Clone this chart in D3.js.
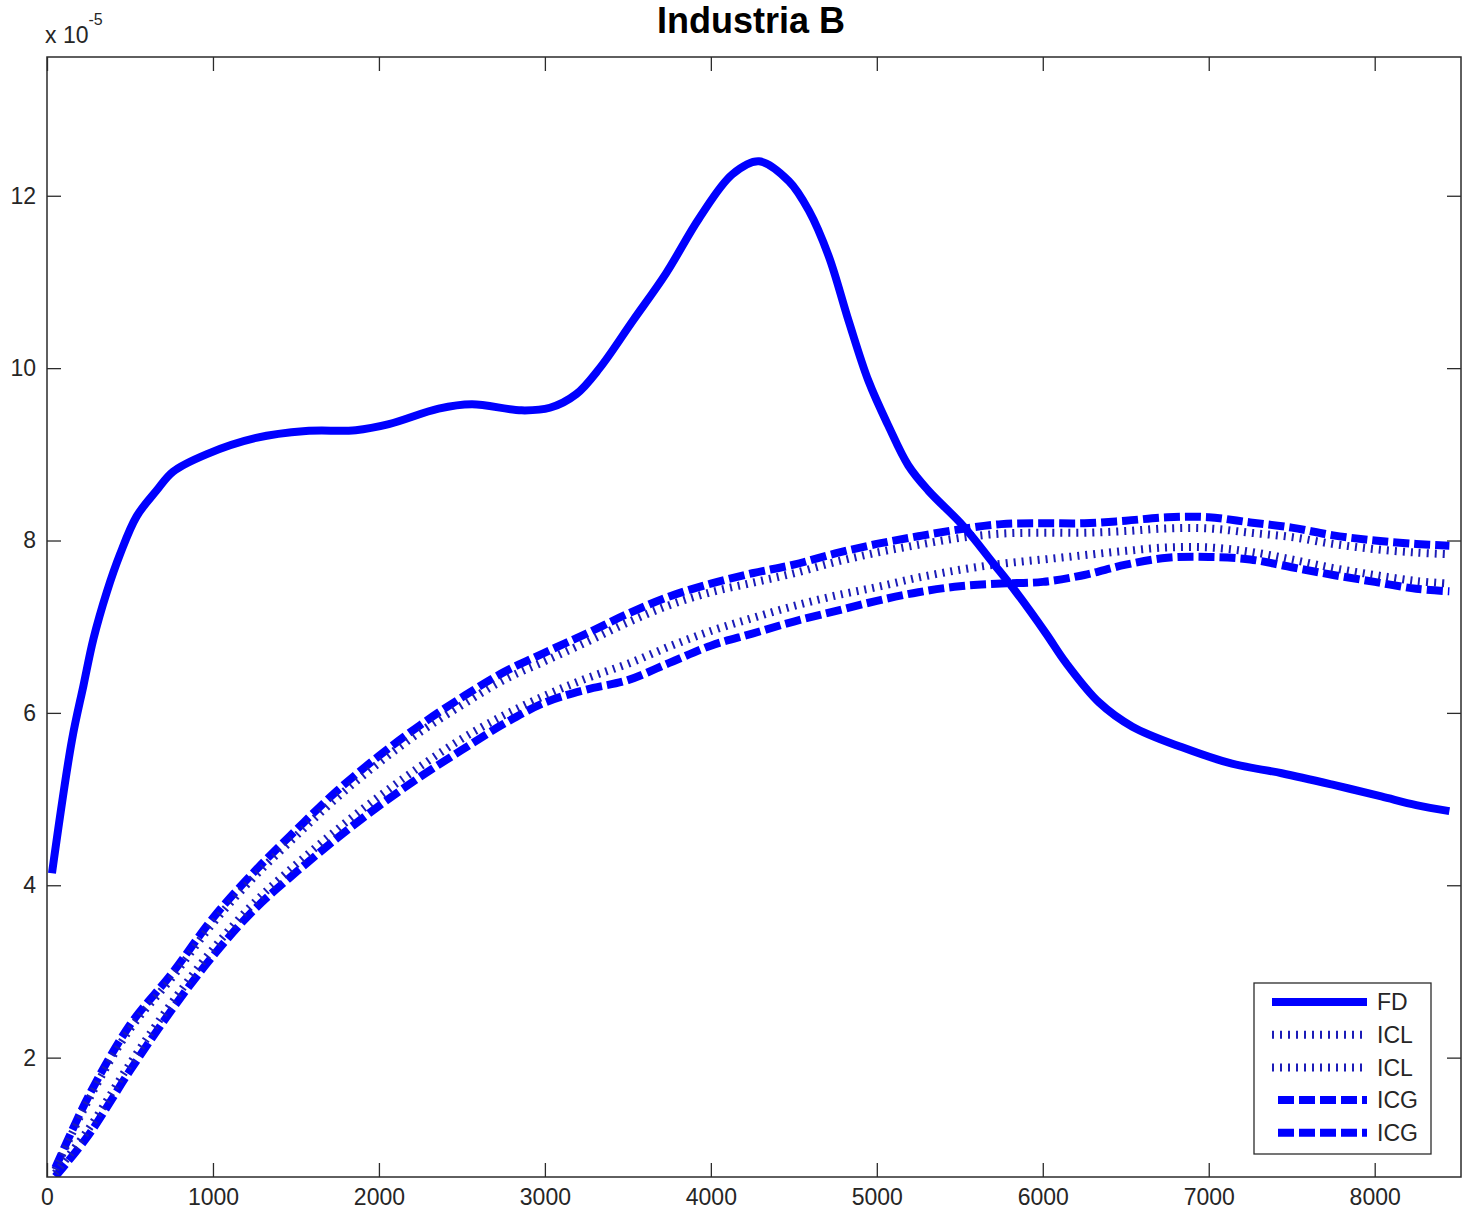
<!DOCTYPE html>
<html>
<head>
<meta charset="utf-8">
<script src="https://cdn.jsdelivr.net/npm/d3@7"></script>
<style>
    body { margin: 0; background: #fff; }
    text { font-family: "Liberation Sans", Arial, sans-serif; }
</style>
</head>
<body>
<div class="plot"></div>
<script>

// tick values
var xTicks = [0, 1000, 2000, 3000, 4000, 5000, 6000, 7000, 8000];
var yTicks = [2, 4, 6, 8, 10, 12];

// FD curve (values in units of 1e-5)
var fdX = [30, 150, 220, 280, 360, 440, 540, 660, 760, 960, 1260, 1560, 1860, 2060, 2360, 2560, 2860, 3030, 3190, 3330,
    3530, 3730, 3930, 4130, 4290, 4470, 4590, 4710, 4830, 4950, 5070, 5190, 5310, 5520, 5700, 5840, 6020, 6140, 6340,
    6540, 6840, 7140, 7440, 7740, 8040, 8250, 8450];
var fdY = [4.14, 5.68, 6.32, 6.86, 7.40, 7.84, 8.28, 8.58, 8.80, 9.00, 9.19, 9.27, 9.28, 9.35, 9.53, 9.58, 9.51, 9.54, 9.70, 10.00,
    10.55, 11.10, 11.74, 12.25, 12.40, 12.17, 11.83, 11.30, 10.55, 9.85, 9.33, 8.87, 8.58, 8.17, 7.74, 7.40, 6.92, 6.58, 6.12,
    5.84, 5.60, 5.41, 5.30, 5.17, 5.03, 4.93, 4.86];

// confidence bands share one x grid
var bandX = [50, 250, 500, 750, 1000, 1250, 1500, 1750, 2000, 2250, 2500, 2750, 3000, 3250, 3500, 3750, 4000, 4250, 4500,
    4750, 5000, 5250, 5500, 5750, 6000, 6250, 6500, 6750, 7000, 7250, 7500, 7750, 8000, 8250, 8450];
var icgUpper = [0.72, 1.55, 2.38, 2.97, 3.62, 4.16, 4.64, 5.10, 5.50, 5.86, 6.18, 6.47, 6.70, 6.92, 7.15, 7.35, 7.50, 7.62, 7.72,
    7.85, 7.96, 8.05, 8.13, 8.19, 8.20, 8.20, 8.23, 8.27, 8.27, 8.21, 8.15, 8.06, 8.00, 7.96, 7.94];
var iclUpper = [0.70, 1.51, 2.33, 2.92, 3.56, 4.10, 4.57, 5.02, 5.42, 5.78, 6.09, 6.38, 6.60, 6.82, 7.05, 7.25, 7.40, 7.51, 7.62,
    7.75, 7.86, 7.95, 8.03, 8.08, 8.09, 8.09, 8.11, 8.14, 8.14, 8.09, 8.04, 7.96, 7.90, 7.86, 7.84];
var iclLower = [0.66, 1.17, 1.93, 2.63, 3.26, 3.80, 4.24, 4.65, 5.03, 5.38, 5.70, 5.97, 6.20, 6.40, 6.57, 6.77, 6.95, 7.10, 7.24,
    7.36, 7.46, 7.57, 7.66, 7.73, 7.78, 7.83, 7.88, 7.92, 7.92, 7.87, 7.78, 7.68, 7.60, 7.53, 7.50];
var icgLower = [0.62, 1.10, 1.85, 2.55, 3.18, 3.72, 4.15, 4.55, 4.92, 5.26, 5.57, 5.87, 6.12, 6.27, 6.38, 6.58, 6.78, 6.92, 7.06,
    7.18, 7.30, 7.40, 7.47, 7.50, 7.52, 7.60, 7.72, 7.80, 7.81, 7.78, 7.69, 7.60, 7.52, 7.44, 7.41];

var legendLabels = ["FD", "ICL", "ICL", "ICG", "ICG"];

var W = 1472, H = 1224;
var box = { left: 47, top: 57, right: 1461, bottom: 1177 };

var BLUE = "#0000ff",
    DOT_BLUE = "#1c1cb8",
    AXIS_COLOR = "#2b2b2b",
    TICK_LEN = 14;

var styles = {
    solid: { color: BLUE, width: 8, dash: null },
    dotted: { color: DOT_BLUE, width: 8, dash: "2,6" },
    dashed: { color: BLUE, width: 8, dash: "16,5" }
};

var svg = d3.select(".plot").append("svg")
    .attr("width", W)
    .attr("height", H);

var x = d3.scaleLinear().domain([0, 8520]).range([box.left, box.right]);
var y = d3.scaleLinear().domain([0.615, 13.61]).range([box.bottom, box.top]);

svg.append("clipPath")
    .attr("id", "clip")
    .append("rect")
    .attr("x", box.left)
    .attr("y", box.top)
    .attr("width", box.right - box.left)
    .attr("height", box.bottom - box.top);

var line = d3.line()
    .x(function(d) { return x(d[0]); })
    .y(function(d) { return y(d[1]); })
    .curve(d3.curveCatmullRom.alpha(0.5));

function zip(xs, ys) {
    return xs.map(function(v, i) { return [v, ys[i]]; });
}

var series = [
    { pts: zip(bandX, icgUpper), style: styles.dashed },
    { pts: zip(bandX, icgLower), style: styles.dashed },
    { pts: zip(bandX, iclUpper), style: styles.dotted },
    { pts: zip(bandX, iclLower), style: styles.dotted },
    { pts: zip(fdX, fdY), style: styles.solid }
];

var plot = svg.append("g").attr("clip-path", "url(#clip)");

plot.selectAll("path.series")
    .data(series)
    .enter().append("path")
    .attr("class", "series")
    .attr("d", function(d) { return line(d.pts); })
    .attr("fill", "none")
    .attr("stroke", function(d) { return d.style.color; })
    .attr("stroke-width", function(d) { return d.style.width; })
    .attr("stroke-dasharray", function(d) { return d.style.dash; })
    .attr("stroke-linejoin", "round");

// axes: matlab style box with inward ticks on all sides
var xAxisBottom = d3.axisBottom(x).tickValues(xTicks).tickFormat(d3.format("d"))
    .tickSizeInner(-TICK_LEN).tickSizeOuter(0).tickPadding(12);
var xAxisTop = d3.axisTop(x).tickValues(xTicks).tickSizeInner(-TICK_LEN).tickSizeOuter(0).tickFormat("");
var yAxisLeft = d3.axisLeft(y).tickValues(yTicks).tickFormat(d3.format("d"))
    .tickSizeInner(-TICK_LEN).tickSizeOuter(0).tickPadding(11);
var yAxisRight = d3.axisRight(y).tickValues(yTicks).tickSizeInner(-TICK_LEN).tickSizeOuter(0).tickFormat("");

svg.append("g").attr("transform", "translate(0," + box.bottom + ")").call(xAxisBottom);
svg.append("g").attr("transform", "translate(0," + box.top + ")").call(xAxisTop);
svg.append("g").attr("transform", "translate(" + box.left + ",0)").call(yAxisLeft);
svg.append("g").attr("transform", "translate(" + box.right + ",0)").call(yAxisRight);

svg.selectAll(".domain").remove();
svg.selectAll(".tick line")
    .attr("stroke", AXIS_COLOR)
    .attr("stroke-width", 1.3);
svg.selectAll(".tick text")
    .attr("fill", "#262626")
    .style("font-size", "23px");

svg.append("rect")
    .attr("x", box.left)
    .attr("y", box.top)
    .attr("width", box.right - box.left)
    .attr("height", box.bottom - box.top)
    .attr("fill", "none")
    .attr("stroke", AXIS_COLOR)
    .attr("stroke-width", 1.5);

// exponent label
var expo = svg.append("text")
    .attr("x", 45)
    .attr("y", 43)
    .attr("fill", "#262626")
    .style("font-size", "23px");
expo.append("tspan").text("x 10");
expo.append("tspan")
    .attr("dy", -18)
    .style("font-size", "16px")
    .text("-5");

svg.append("text")
    .attr("x", 751)
    .attr("y", 33)
    .attr("text-anchor", "middle")
    .style("font-size", "36px")
    .style("font-weight", "bold")
    .attr("fill", "#000")
    .text("Industria B");

// legend
var legendStyles = [styles.solid, styles.dotted, styles.dotted, styles.dashed, styles.dashed];
var legendBox = { x: 1254, y: 983, w: 177, h: 171 };

svg.append("rect")
    .attr("x", legendBox.x)
    .attr("y", legendBox.y)
    .attr("width", legendBox.w)
    .attr("height", legendBox.h)
    .attr("fill", "#fff")
    .attr("stroke", AXIS_COLOR)
    .attr("stroke-width", 1.3);

var legend = svg.selectAll(".legend")
    .data(legendLabels)
    .enter().append("g")
    .attr("class", "legend")
    .attr("transform", function(d, i) {
        return "translate(0," + (1002 + i * 32.7) + ")";
    });

legend.append("line")
    .attr("x1", function(d, i) { return legendStyles[i] === styles.dashed ? 1278 : 1272; })
    .attr("x2", 1367)
    .attr("y1", 0)
    .attr("y2", 0)
    .attr("stroke", function(d, i) { return legendStyles[i].color; })
    .attr("stroke-width", function(d, i) { return legendStyles[i].width; })
    .attr("stroke-dasharray", function(d, i) { return legendStyles[i].dash; });

legend.append("text")
    .attr("x", 1377)
    .attr("dy", "0.36em")
    .attr("fill", "#262626")
    .style("font-size", "23px")
    .text(function(d) { return d; });

</script>
</body>
</html>
